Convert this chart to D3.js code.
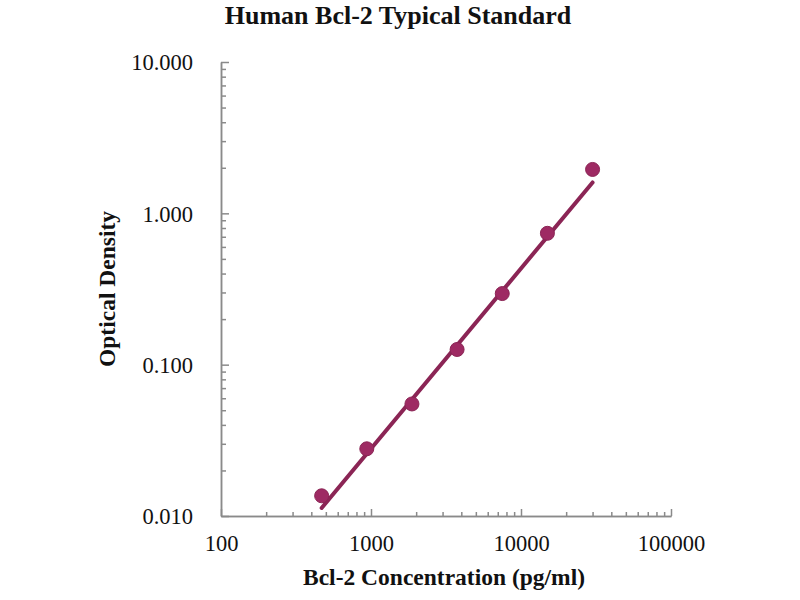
<!DOCTYPE html>
<html>
<head>
<meta charset="utf-8">
<script src="https://cdn.jsdelivr.net/npm/d3@7.9.0/dist/d3.min.js"></script>
<style>
  body { margin: 0; background: #fff; }
  text { font-family: "Liberation Serif", "Times New Roman", serif; fill: #111; }
</style>
</head>
<body>
<div id="chart"></div>
<script>
// Standard curve values
const concentrations = [468.75, 937.5, 1875, 3750, 7500, 15000, 30000];
const opticalDensity = [0.0136, 0.0278, 0.055, 0.126, 0.295, 0.738, 1.95];

// fitted trend line, end points
const fitConcentrations = [468.75, 30000];
const fitDensity = [0.0113, 1.60];

const xMajorTicks = [100, 1000, 10000, 100000];
const yMajorTicks = [0.01, 0.1, 1, 10];
const yTickLabels = ['0.010', '0.100', '1.000', '10.000'];

const title = 'Human Bcl-2 Typical Standard';
const xTitle = 'Bcl-2 Concentration (pg/ml)';
const yTitle = 'Optical Density';

const width = 800, height = 600;
const plot = { left: 221, right: 671, top: 62, bottom: 516 };

const svg = d3.select('#chart').append('svg')
  .attr('width', width)
  .attr('height', height);

const xScale = d3.scaleLog().domain([100, 100000]).range([plot.left, plot.right]);
const yScale = d3.scaleLog().domain([0.01, 10]).range([plot.bottom, plot.top]);

// minor ticks: 2..9 within each decade
function minorTicks(majors) {
  const out = [];
  for (let i = 0; i < majors.length - 1; i++) {
    for (let k = 2; k <= 9; k++) out.push(majors[i] * k);
  }
  return out;
}

const axisColor = '#8a8a8a';

// x axis
const xMinor = svg.append('g')
  .attr('transform', `translate(0,${plot.bottom})`)
  .call(d3.axisBottom(xScale).tickValues(minorTicks(xMajorTicks)).tickSizeInner(-4).tickSizeOuter(0).tickFormat(''));
const xMajor = svg.append('g')
  .attr('transform', `translate(0,${plot.bottom})`)
  .call(d3.axisBottom(xScale).tickValues(xMajorTicks).tickSizeInner(-7).tickSizeOuter(0)
    .tickPadding(19).tickFormat(d3.format('d')));

// y axis
const yMinor = svg.append('g')
  .attr('transform', `translate(${plot.left},0)`)
  .call(d3.axisLeft(yScale).tickValues(minorTicks(yMajorTicks)).tickSizeInner(-5).tickSizeOuter(0).tickFormat(''));
const yMajor = svg.append('g')
  .attr('transform', `translate(${plot.left},0)`)
  .call(d3.axisLeft(yScale).tickValues(yMajorTicks).tickSizeInner(-8).tickSizeOuter(0)
    .tickPadding(28).tickFormat((d, i) => yTickLabels[i]));

[xMinor, xMajor, yMinor, yMajor].forEach(g => {
  g.selectAll('path, line').attr('stroke', axisColor).attr('stroke-width', 1.5);
  g.selectAll('text')
    .attr('font-size', 22.5)
    .attr('font-family', '"Liberation Serif", serif')
    .attr('fill', '#111');
});
yMajor.selectAll('text').attr('dy', '0.35em');

// fitted line
const line = d3.line()
  .x(d => xScale(d[0]))
  .y(d => yScale(d[1]));

svg.append('path')
  .datum(d3.zip(fitConcentrations, fitDensity))
  .attr('fill', 'none')
  .attr('stroke', '#8b2555')
  .attr('stroke-width', 4)
  .attr('stroke-linecap', 'round')
  .attr('d', line);

// points
svg.append('g')
  .selectAll('circle')
  .data(d3.zip(concentrations, opticalDensity))
  .join('circle')
  .attr('cx', d => xScale(d[0]))
  .attr('cy', d => yScale(d[1]))
  .attr('r', 7)
  .attr('fill', '#9e2a63')
  .attr('stroke', '#8b2555')
  .attr('stroke-width', 1);

// titles
svg.append('text')
  .attr('x', 398)
  .attr('y', 24)
  .attr('text-anchor', 'middle')
  .attr('font-size', 26)
  .attr('font-weight', 'bold')
  .text(title);

svg.append('text')
  .attr('x', 444)
  .attr('y', 585)
  .attr('text-anchor', 'middle')
  .attr('font-size', 23.5)
  .attr('font-weight', 'bold')
  .text(xTitle);

svg.append('text')
  .attr('transform', 'translate(115,289) rotate(-90)')
  .attr('text-anchor', 'middle')
  .attr('font-size', 23.5)
  .attr('font-weight', 'bold')
  .text(yTitle);
</script>
</body>
</html>
